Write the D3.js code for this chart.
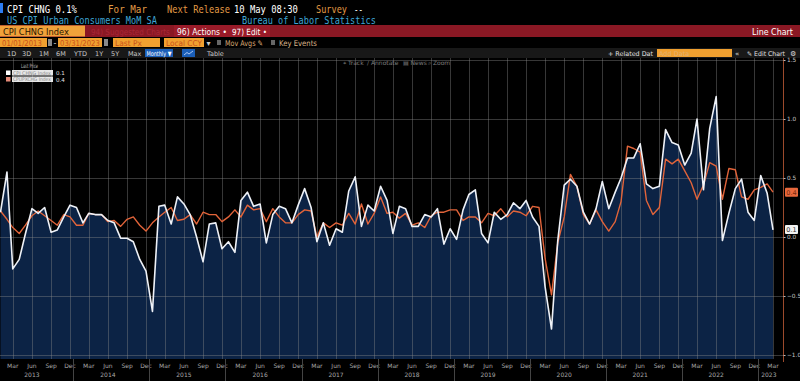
<!DOCTYPE html>
<html><head><meta charset="utf-8">
<script src="https://cdn.jsdelivr.net/npm/d3@7"></script>
<style>html,body{margin:0;padding:0;background:#000;}svg{display:block;}</style>
</head><body>
<script>
// ---------------- data ----------------
const startMonth = "2013-01";   // first observation (monthly)
const cpiChng = [
  0.21, 0.55, -0.27, -0.19, 0.03, 0.24, 0.20, 0.25, 0.04, 0.06, 0.17, 0.27,   // 2013
  0.25, 0.12, 0.20, 0.19, 0.19, 0.14, 0.12, -0.01, -0.01, -0.04, -0.19, -0.29, // 2014
  -0.63, 0.26, 0.27, 0.11, 0.34, 0.28, 0.19, 0.00, -0.21, 0.11, 0.12, -0.10,  // 2015
  -0.04, -0.13, 0.31, 0.38, 0.26, 0.28, -0.05, 0.19, 0.26, 0.24, 0.12, 0.27,  // 2016
  0.41, 0.25, -0.04, 0.12, -0.07, 0.07, 0.04, 0.39, 0.51, 0.09, 0.27, 0.22,   // 2017
  0.43, 0.31, 0.03, 0.26, 0.24, 0.09, 0.09, 0.19, 0.17, 0.24, -0.06, 0.07,    // 2018
  -0.02, 0.23, 0.36, 0.40, 0.03, -0.05, 0.21, 0.15, 0.19, 0.29, 0.24, 0.31,   // 2019
  0.17, 0.09, -0.42, -0.78, -0.03, 0.44, 0.49, 0.43, 0.21, 0.11, 0.24, 0.47,  // 2020
  0.24, 0.38, 0.50, 0.67, 0.67, 0.79, 0.45, 0.41, 0.43, 0.91, 0.80, 0.78,     // 2021
  0.61, 0.71, 1.00, 0.40, 0.92, 1.19, -0.03, 0.20, 0.41, 0.49, 0.21, 0.14,    // 2022
  0.52, 0.37, 0.06                                                            // 2023
];
const cpupxchg = [
  0.22, 0.15, 0.08, 0.03, 0.10, 0.18, 0.22, 0.18, 0.14, 0.10, 0.19, 0.17,     // 2013
  0.10, 0.10, 0.20, 0.19, 0.19, 0.13, 0.14, 0.09, 0.15, 0.17, 0.10, 0.05,     // 2014
  0.12, 0.17, 0.21, 0.25, 0.14, 0.15, 0.19, 0.11, 0.21, 0.19, 0.19, 0.13,     // 2015
  0.17, 0.23, 0.17, 0.27, 0.23, 0.24, 0.13, 0.24, 0.17, 0.12, 0.12, 0.19,     // 2016
  0.23, 0.22, 0.00, 0.12, 0.08, 0.12, 0.10, 0.20, 0.11, 0.28, 0.11, 0.20,     // 2017
  0.34, 0.20, 0.21, 0.16, 0.20, 0.10, 0.12, 0.08, 0.18, 0.21, 0.21, 0.23,     // 2018
  0.23, 0.14, 0.17, 0.17, 0.12, 0.20, 0.18, 0.24, 0.17, 0.22, 0.21, 0.18,     // 2019
  0.26, 0.25, -0.18, -0.49, -0.05, 0.17, 0.53, 0.43, 0.19, 0.11, 0.23, 0.13,  // 2020
  0.05, 0.13, 0.30, 0.77, 0.75, 0.72, 0.31, 0.19, 0.25, 0.66, 0.62, 0.66,     // 2021
  0.56, 0.46, 0.32, 0.44, 0.63, 0.60, 0.32, 0.58, 0.57, 0.34, 0.32, 0.40,     // 2022
  0.42, 0.45, 0.38                                                            // 2023
];
const yTicks = [1.5, 1.0, 0.5, 0.0, -0.5, -1.0];
const quarterLabels = ["Mar", "Jun", "Sep", "Dec"];
const yearLabels = ["2013","2014","2015","2016","2017","2018","2019","2020","2021","2022","2023"];
const seriesNames = ["CPI CHNG Index", "CPUPXCHG Index"];
const lastLabels = ["0.1", "0.4"];

// ---------------- setup ----------------
const W = 800, H = 381;
const svg = d3.select("body").append("svg").attr("width", W).attr("height", H)
  .style("font-family", "'DejaVu Sans', sans-serif");
svg.append("rect").attr("width", W).attr("height", H).attr("fill", "#000");

const parseM = d3.timeParse("%Y-%m");
const t0 = parseM(startMonth);
const dates = cpiChng.map((_, i) => d3.timeMonth.offset(t0, i));
const dataW = dates.map((d, i) => ({ date: d, v: cpiChng[i] }));
const dataO = dates.map((d, i) => ({ date: d, v: cpupxchg[i] }));

const plotTop = 58, plotBottom = 359, axisX = 783;
const x = d3.scaleTime().domain([dates[0], dates[dates.length - 1]]).range([0.5, 773]);
const y = d3.scaleLinear().domain([-1, 1.5]).range([355, 60]);

// text helper: when a width is given, the text is squeezed horizontally with a transform
function txt(g, xx, yy, s, o = {}) {
  const t = g.append("text").text(s)
    .attr("fill", o.fill || "#fff").attr("font-size", o.size || 8)
    .attr("font-family", o.font || "'DejaVu Sans', sans-serif");
  if (o.anchor) t.attr("text-anchor", o.anchor);
  if (o.weight) t.attr("font-weight", o.weight);
  if (o.w) {
    t.attr("x", 0).attr("y", 0);
    const len = t.node().getComputedTextLength() || o.w;
    t.attr("transform", `translate(${xx},${yy}) scale(${o.w / len},1)`);
  } else {
    t.attr("x", xx).attr("y", yy);
  }
  return t;
}

// ---------------- header ----------------
const hdr = svg.append("g");
const mono = "'DejaVu Sans Mono', monospace";
const orange = "#e29a45", cyan = "#3fa6d6";
hdr.append("rect").attr("x", 0).attr("y", 3).attr("width", 3).attr("height", 10).attr("fill", "#2d7cf0");
txt(hdr, 7, 12.5, "CPI CHNG 0.1%", { size: 11, w: 70, font: mono });
txt(hdr, 108, 12.5, "For Mar", { size: 11, w: 39, font: mono, fill: orange });
txt(hdr, 167, 12.5, "Next Release", { size: 11, w: 63, font: mono, fill: orange });
txt(hdr, 234, 12.5, "10 May 08:30", { size: 11, w: 64, font: mono });
txt(hdr, 316, 12.5, "Survey", { size: 11, w: 31, font: mono, fill: orange });
txt(hdr, 354, 12.5, "--", { size: 11, w: 9, font: mono });
txt(hdr, 7, 23.5, "US CPI Urban Consumers MoM SA", { size: 10, w: 150, font: mono, fill: cyan });
txt(hdr, 242, 23.5, "Bureau of Labor Statistics", { size: 10, w: 134, font: mono, fill: cyan });

// red bar
hdr.append("rect").attr("x", 0).attr("y", 25).attr("width", W).attr("height", 12).attr("fill", "#8a1824");
hdr.append("rect").attr("x", 174).attr("y", 25).attr("width", 96).attr("height", 12).attr("fill", "#9a1b29");
hdr.append("rect").attr("x", 0).attr("y", 25.5).attr("width", 85).attr("height", 11).attr("fill", "#f0a23a");
txt(hdr, 3, 34.5, "CPI CHNG Index", { size: 9, w: 66, fill: "#2a1500" });
txt(hdr, 91, 34.5, "94) Suggested Charts", { size: 8.5, w: 79, fill: "#a82636" });
txt(hdr, 177, 34.5, "96) Actions \u2022", { size: 8.5, w: 50, fill: "#fff" });
txt(hdr, 232, 34.5, "97) Edit \u2022", { size: 8.5, w: 35, fill: "#fff" });
txt(hdr, 752, 34.5, "Line Chart", { size: 8.5, w: 41, fill: "#fff" });

// input row
const boxFill = "#f0a030", boxTxt = "#c8501a";
[[0, 47, "01/01/2013", 40], [58, 102, "03/31/2023", 40], [113, 160, "Last Px", 27], [164, 204, "Local CCY", 36]].forEach(b => {
  hdr.append("rect").attr("x", b[0]).attr("y", 38).attr("width", b[1] - b[0]).attr("height", 9).attr("fill", boxFill);
  txt(hdr, b[0] + 2, 45.5, b[2], { size: 8, fill: boxTxt, w: b[3] });
});
[48, 104].forEach(xx => hdr.append("rect").attr("x", xx).attr("y", 39).attr("width", 4).attr("height", 7).attr("fill", "#8a8a8a"));
txt(hdr, 53.5, 45.5, "-", { size: 8, fill: "#ddd" });
txt(hdr, 206.5, 45.5, "\u25BE", { size: 8, fill: "#ccc" });
hdr.append("rect").attr("x", 217).attr("y", 40).attr("width", 4).attr("height", 5).attr("fill", "#666");
txt(hdr, 225, 45.5, "Mov Avgs \u270E", { size: 8, w: 38, fill: "#d9a874" });
hdr.append("rect").attr("x", 271).attr("y", 40).attr("width", 4).attr("height", 5).attr("fill", "#666");
txt(hdr, 279, 45.5, "Key Events", { size: 8, w: 38, fill: "#d9b48a" });

// toolbar row
hdr.append("rect").attr("x", 0).attr("y", 48).attr("width", W).attr("height", 10).attr("fill", "#181818");
[[7, "1D"], [22, "3D"], [39, "1M"], [56, "6M"], [74, "YTD"], [95, "1Y"], [111, "5Y"], [128, "Max"]].forEach(p =>
  txt(hdr, p[0], 55.7, p[1], { size: 6.5, fill: "#c8c8c8" }));
hdr.append("rect").attr("x", 145).attr("y", 49).attr("width", 28).attr("height", 8).attr("fill", "#1b5fb8");
txt(hdr, 146.5, 55.7, "Monthly \u25BC", { size: 6.5, w: 25, fill: "#fff" });
hdr.append("rect").attr("x", 182).attr("y", 49).attr("width", 13).attr("height", 8).attr("fill", "#1b5fb8");
hdr.append("path").attr("d", "M184,55 L187,52.5 L189,54 L193,51").attr("stroke", "#cfe0ff").attr("fill", "none").attr("stroke-width", 0.8);
txt(hdr, 207, 55.7, "Table", { size: 6.5, fill: "#c8c8c8" });
txt(hdr, 608, 55.7, "+ Related Dat", { size: 6.5, w: 45, fill: "#e0e0e0" });
hdr.append("rect").attr("x", 657).attr("y", 49).attr("width", 75).attr("height", 8).attr("fill", "#f0a030");
txt(hdr, 659, 55.7, "Add Data", { size: 6.5, fill: "#e0b070" });
txt(hdr, 735, 55.7, "\u00AB", { size: 7, fill: "#ddd" });
txt(hdr, 747, 55.7, "\u270E Edit Chart", { size: 6.5, w: 38, fill: "#e0e0e0" });
txt(hdr, 790, 56, "\u2699", { size: 7, fill: "#ddd" });

// ---------------- plot ----------------
const plot = svg.append("g");
plot.append("clipPath").attr("id", "clip").append("rect")
  .attr("x", 0).attr("y", plotTop).attr("width", axisX).attr("height", plotBottom - plotTop);

const area = d3.area().x(d => x(d.date)).y0(plotBottom).y1(d => y(d.v));
plot.append("path").datum(dataW).attr("d", area).attr("fill", "#0c2345").attr("clip-path", "url(#clip)");

// gridlines
const quarterTicks = dates.filter(d => [2, 5, 8, 11].includes(d.getMonth()));
const grid = plot.append("g").attr("stroke", "#8a8a8a").attr("stroke-opacity", 0.4).attr("stroke-width", 1);
quarterTicks.forEach(d => grid.append("line")
  .attr("x1", Math.round(x(d)) + 0.5).attr("x2", Math.round(x(d)) + 0.5)
  .attr("y1", plotTop).attr("y2", plotBottom));
yTicks.forEach(v => grid.append("line")
  .attr("x1", 0).attr("x2", axisX).attr("y1", Math.round(y(v)) + 0.5).attr("y2", Math.round(y(v)) + 0.5));

// lines
const line = d3.line().x(d => x(d.date)).y(d => y(d.v));
plot.append("path").datum(dataO).attr("d", line).attr("fill", "none")
  .attr("stroke", "#e2643a").attr("stroke-width", 1.4).attr("stroke-linejoin", "round");
plot.append("path").datum(dataW).attr("d", line).attr("fill", "none")
  .attr("stroke", "#eef1f7").attr("stroke-width", 1.6).attr("stroke-linejoin", "round");

// top tools
const tools = [[343, "\u2316 Track"], [367, "\u2215 Annotate"], [403, "\u25A4 News"], [428, "\u2315 Zoom"]];
tools.forEach(t => txt(plot, t[0], 65, t[1], { size: 6, fill: "#7d7d7d" }));

// legend
txt(plot, 21, 67.5, "Last Price", { size: 6, w: 17, fill: "#bdbdbd" });
const legCols = ["#ffffff", "#e58a78"];
seriesNames.forEach((n, i) => {
  const yy = 70.5 + i * 6.5;
  plot.append("rect").attr("x", 6).attr("y", yy).attr("width", 4.5).attr("height", 4.5).attr("fill", legCols[i]);
  plot.append("rect").attr("x", 12).attr("y", yy - 0.5).attr("width", 41).attr("height", 5.5).attr("fill", "#e6e6e6");
  txt(plot, 13, yy + 4.2, n, { size: 5, w: 38, fill: "#8a8a8a" });
  txt(plot, 56, yy + 4.5, lastLabels[i], { size: 5.5, fill: "#e0e0e0" });
});

// right axis
plot.append("line").attr("x1", axisX + 0.5).attr("x2", axisX + 0.5).attr("y1", plotTop).attr("y2", 362)
  .attr("stroke", "#9c4a2c").attr("stroke-width", 1);
const yAxis = d3.axisRight(y).tickValues(yTicks).tickSize(2).tickFormat(d3.format(".1f"));
const ya = plot.append("g").attr("transform", `translate(${axisX + 0.5},0)`).call(yAxis);
ya.select(".domain").remove();
ya.selectAll("line").attr("stroke", "#bbb");
ya.selectAll("text").attr("fill", "#c8c8c8").attr("font-size", 5.8).attr("x", 3.5)
  .attr("font-family", "'DejaVu Sans', sans-serif");

// last value tags
const tags = [[cpupxchg[cpupxchg.length - 1], "#e8683c", "#7a2a10", lastLabels[1]],
              [cpiChng[cpiChng.length - 1], "#f2f2f2", "#333", lastLabels[0]]];
tags.forEach((t, i) => {
  const cy = i === 0 ? y(t[0]) : y(t[0]) - 0.5;
  plot.append("rect").attr("x", axisX + 2).attr("y", cy - 4.5).attr("width", 13).attr("height", 9)
    .attr("fill", t[1]).attr("rx", 1);
  txt(plot, axisX + 8.5, cy + 2.5, t[3], { size: 6.5, fill: t[2], anchor: "middle" });
});

// x axis labels
const xa = svg.append("g");
const monthIdx = [2, 5, 8, 11];
quarterTicks.forEach(d => {
  txt(xa, x(d), 367.5, quarterLabels[monthIdx.indexOf(d.getMonth())], { size: 6, fill: "#a8a8a8", anchor: "middle" });
});
yearLabels.forEach(yr => {
  const inYear = dates.filter(d => d.getFullYear() === +yr);
  const jun = inYear.find(d => d.getMonth() === 5);
  const cx = jun ? x(jun) : (x(inYear[0]) + x(inYear[inYear.length - 1])) / 2 + 2;
  txt(xa, cx, 376.5, yr, { size: 6, fill: "#a8a8a8", anchor: "middle" });
  const jan = inYear.find(d => d.getMonth() === 0);
  if (jan && +yr > 2013) {
    const sx = Math.round(x(jan) - 3) + 0.5;
    xa.append("line").attr("x1", sx).attr("x2", sx).attr("y1", plotBottom).attr("y2", 381)
      .attr("stroke", "#444").attr("stroke-width", 1);
  }
});
</script>
</body></html>
